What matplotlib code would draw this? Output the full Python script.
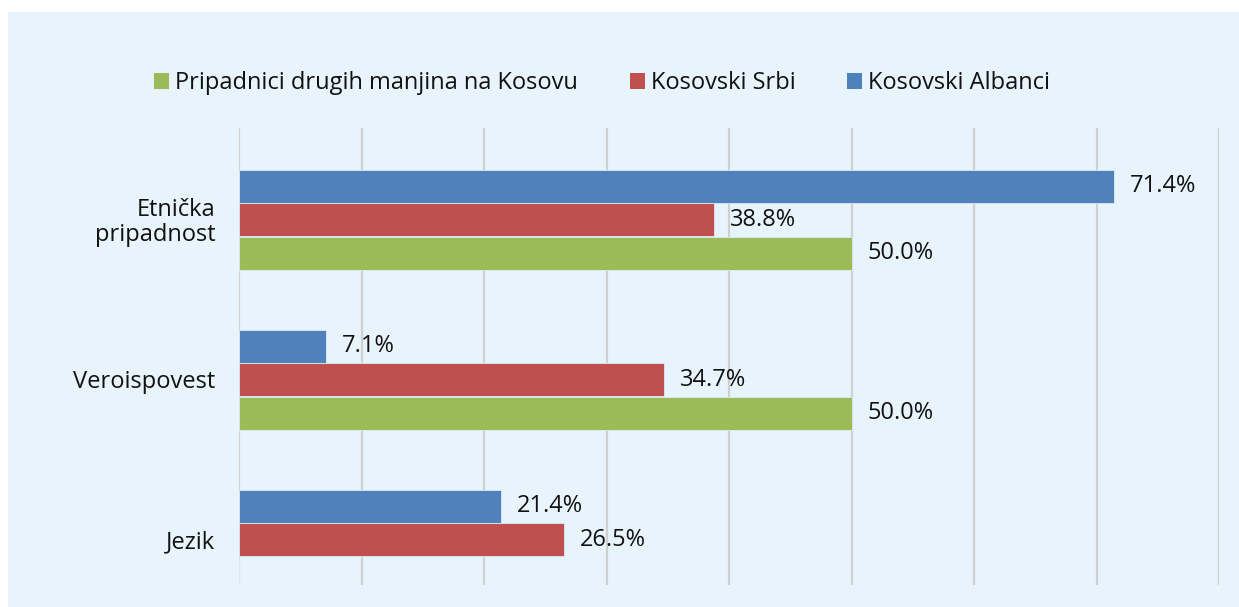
import numpy as np
import matplotlib
matplotlib.use("Agg")
import matplotlib.pyplot as plt
from matplotlib.patches import Rectangle, Patch

# --- Data ---------------------------------------------------------------
categories = ["Etnička\npripadnost", "Veroispovest", "Jezik"]
albanci = [71.4, 7.1, 21.4]          # Kosovski Albanci
srbi = [38.8, 34.7, 26.5]            # Kosovski Srbi
manjine = [50.0, 50.0, np.nan]       # Pripadnici drugih manjina na Kosovu
series_names = ["Pripadnici drugih manjina na Kosovu", "Kosovski Srbi", "Kosovski Albanci"]

BG = "#E8F4FB"
C_BLUE, C_RED, C_GREEN = "#4F81BD", "#C0504D", "#9BBB59"
FS = 17
plt.rcParams["font.family"] = ["Open Sans", "DejaVu Sans"]

W, H = 1239, 607
fig = plt.figure(figsize=(W / 100, H / 100), dpi=100)
fig.patch.set_facecolor("white")
fig.patches.append(Rectangle((8 / W, 0), 1 - 8 / W, 1 - 12 / H,
                             transform=fig.transFigure, facecolor=BG,
                             edgecolor="none", zorder=-10))

ax = fig.add_axes([239 / W, 1 - 585 / H, 980 / W, 457 / H])
ax.set_facecolor("none")

y = np.arange(len(categories))
h = 33 / 160
off = 33.5 / 160
for vals, dy, col in [(albanci, -off, C_BLUE), (srbi, 0, C_RED), (manjine, off, C_GREEN)]:
    v = np.nan_to_num(np.array(vals, dtype=float))
    ax.barh(y + dy, v, height=h, color=col, edgecolor="#DDEBF5", linewidth=0.6, zorder=3)
    for yi, val in zip(y + dy, vals):
        if np.isfinite(val):
            ax.annotate(f"{val:.1f}%", (val, yi), xytext=(11.5, 0), textcoords="offset points",
                        ha="left", va="center", fontsize=FS, color="#111111")

ax.set_xlim(0, 80)
ax.set_xticks(np.arange(0, 81, 10))
ax.set_ylim(2 + 45.5 / 160, -91.5 / 160)
ax.grid(axis="x", color="#D0D0D0", linewidth=1.6, zorder=0)
ax.tick_params(axis="x", length=0, labelbottom=False)
ax.tick_params(axis="y", length=0, pad=17)
ax.set_yticks(y)
ax.set_yticklabels(categories, fontsize=FS, color="#111111", ha="right", linespacing=1.05)
for s in ax.spines.values():
    s.set_visible(False)

handles = [Patch(facecolor=c) for c in (C_GREEN, C_RED, C_BLUE)]
fig.legend(handles, series_names, loc="center", bbox_to_anchor=(602 / W, 1 - 83 / H),
           ncol=3, frameon=False, fontsize=FS, handlelength=0.64, handleheight=0.64,
           handletextpad=0.25, columnspacing=2.2, labelcolor="#111111")

fig.savefig("out.png", dpi=100, facecolor=fig.get_facecolor())
